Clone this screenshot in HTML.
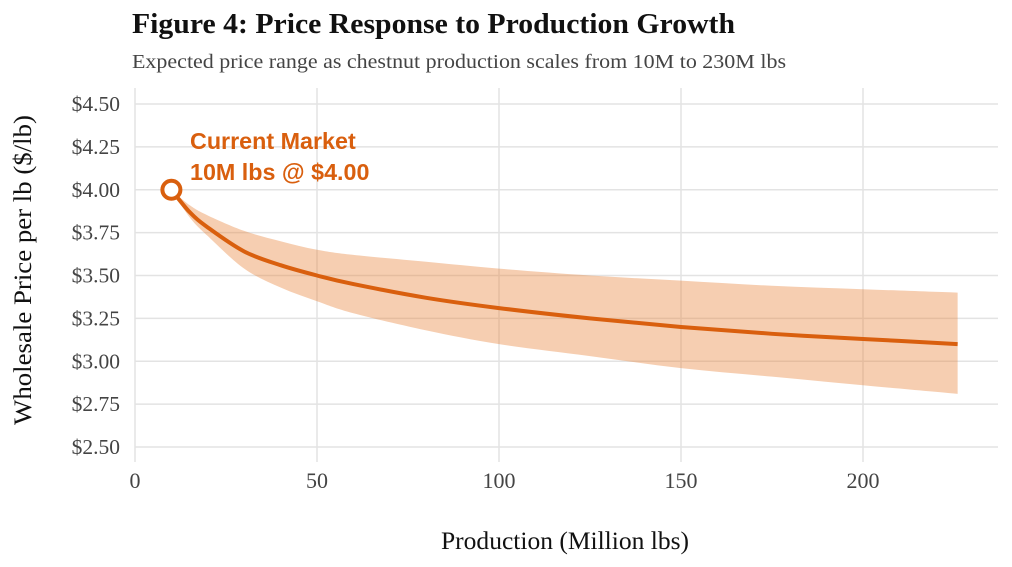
<!DOCTYPE html>
<html><head><meta charset="utf-8"><style>
body{margin:0;background:#fff;}
svg{display:block;font-family:"Liberation Serif",serif;}
</style></head><body>
<svg id="chart" width="1012" height="567" viewBox="0 0 1012 567">
<text x="132" y="33" font-size="28" font-weight="bold" fill="#111" textLength="603" lengthAdjust="spacingAndGlyphs">Figure 4: Price Response to Production Growth</text>
<text x="132" y="68" font-size="20" fill="#444" textLength="654" lengthAdjust="spacingAndGlyphs">Expected price range as chestnut production scales from 10M to 230M lbs</text>
<g id="grid"></g>
<g id="yticks"></g>
<g id="xticks"></g>
<g id="marks"></g>
<text x="565" y="549" font-size="25.5" text-anchor="middle" fill="#111" textLength="248" lengthAdjust="spacingAndGlyphs">Production (Million lbs)</text>
<text transform="translate(31,270) rotate(-90)" font-size="25.5" text-anchor="middle" fill="#111" textLength="310" lengthAdjust="spacingAndGlyphs">Wholesale Price per lb ($/lb)</text>
</svg>
<script>
const production=[10,15,20,30,40,50,60,80,100,125,150,175,200,226];
const priceMid=[4.00,3.87,3.78,3.64,3.56,3.50,3.45,3.37,3.31,3.25,3.20,3.16,3.13,3.10];
const priceHigh=[4.00,3.91,3.85,3.76,3.70,3.65,3.62,3.58,3.54,3.50,3.47,3.44,3.42,3.40];
const priceLow=[4.00,3.84,3.73,3.54,3.43,3.35,3.28,3.18,3.10,3.03,2.96,2.91,2.86,2.81];
const xTicks=[0,50,100,150,200];
const yTicks=[2.5,2.75,3.0,3.25,3.5,3.75,4.0,4.25,4.5];
const NS="http://www.w3.org/2000/svg";
const X=v=>135+v*3.64, Y=v=>447-(v-2.5)*171.5;
function mk(tag,attrs,parent){const e=document.createElementNS(NS,tag);for(const k in attrs)e.setAttribute(k,attrs[k]);parent.appendChild(e);return e;}
function smooth(pts,start){
 let d=start?'M'+pts[0][0]+','+pts[0][1]:'L'+pts[0][0]+','+pts[0][1];
 for(let i=0;i<pts.length-1;i++){
  const p0=pts[Math.max(i-1,0)],p1=pts[i],p2=pts[i+1],p3=pts[Math.min(i+2,pts.length-1)];
  const c1=[p1[0]+(p2[0]-p0[0])/6,p1[1]+(p2[1]-p0[1])/6],c2=[p2[0]-(p3[0]-p1[0])/6,p2[1]-(p3[1]-p1[1])/6];
  d+='C'+c1+' '+c2+' '+p2;
 }
 return d;
}
const grid=document.getElementById('grid'),yt=document.getElementById('yticks'),xt=document.getElementById('xticks'),marks=document.getElementById('marks');
yTicks.forEach(t=>{
 const l=mk('line',{x1:135,x2:998,y1:Y(t),y2:Y(t),stroke:'#e3e3e3','stroke-width':1.5},grid);
 
 
 const s=mk('text',{x:120,y:Y(t)+7,'font-size':21.5,'text-anchor':'end',fill:'#444'},yt);
 s.textContent='$'+t.toFixed(2);
 
 
});
xTicks.forEach(t=>{
 const l=mk('line',{x1:X(t),x2:X(t),y1:88,y2:462,stroke:'#e3e3e3','stroke-width':1.5},grid);
 
 
 const s=mk('text',{x:X(t),y:488,'font-size':22,'text-anchor':'middle',fill:'#444'},xt);
 s.textContent=t;
 
 
});
const hi=production.map((p,i)=>[X(p),Y(priceHigh[i])]);
const lo=production.map((p,i)=>[X(p),Y(priceLow[i])]).reverse();
const band=mk('path',{d:smooth(hi,true)+smooth(lo,false)+'Z',fill:'#e8843c','fill-opacity':0.4},marks);


const line=mk('path',{d:smooth(production.map((p,i)=>[X(p),Y(priceMid[i])]),true),fill:'none',stroke:'#d95f0e','stroke-width':4,'stroke-linejoin':'round'},marks);


const pt=mk('circle',{cx:X(production[0]),cy:Y(priceMid[0]),r:9,fill:'#fff',stroke:'#d95f0e','stroke-width':4},marks);


const a1=mk('text',{x:190,y:149,'font-size':23.3,'font-weight':'bold',fill:'#d95f0e','font-family':'Liberation Sans, sans-serif'},marks);
a1.textContent='Current Market';


const a2=mk('text',{x:190,y:180,'font-size':23.3,'font-weight':'bold',fill:'#d95f0e','font-family':'Liberation Sans, sans-serif'},marks);
a2.textContent='10M lbs @ $4.00';


</script>
</body></html>
